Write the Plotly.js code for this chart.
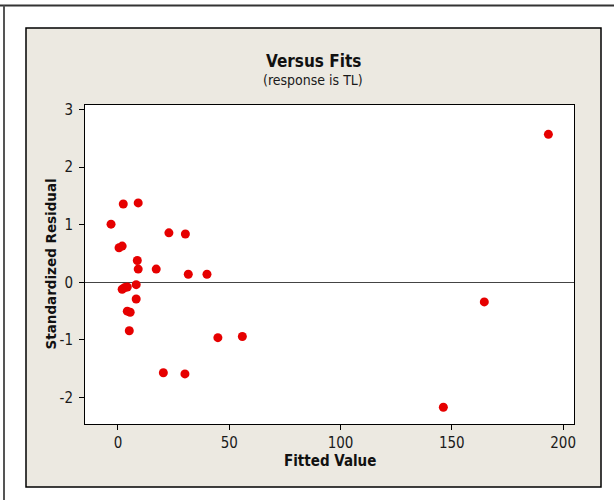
<!DOCTYPE html>
<html>
<head>
<meta charset="utf-8">
<script src="https://cdn.plot.ly/plotly-3.0.1.min.js"></script>
<style>html,body{margin:0;padding:0;background:#fff;}#chart{width:614px;height:500px;}</style>
</head>
<body>
<div id="chart"></div>
<script>
// Data
const fittedValues = [-3.1, 2.4, 9.1, 22.9, 30.3, 0.5, 1.9, 8.7, 9.1, 17.2, 31.6, 40.0, 8.2, 1.9, 3.1, 4.2, 8.2, 4.2, 5.5, 5.1, 44.9, 55.9, 20.4, 30.1, 193.4, 164.6, 146.2];
const stdResiduals = [1.01, 1.36, 1.38, 0.86, 0.84, 0.60, 0.63, 0.38, 0.23, 0.23, 0.14, 0.14, -0.04, -0.12, -0.09, -0.08, -0.29, -0.50, -0.52, -0.84, -0.96, -0.94, -1.57, -1.59, 2.57, -0.34, -2.17];
const xTicks = [0, 50, 100, 150, 200];
const xTickLabels = ['0', '50', '100', '150', '200'];
const yTicks = [-2, -1, 0, 1, 2, 3];
const yTickLabels = ['-2', '-1', '0', '1', '2', '3'];

const narrow = "Liberation Sans Narrow, DejaVu Sans Condensed, Arial Narrow, sans-serif";

const W = 614, H = 500;
const L = 85, R = 574, T = 105, B = 424;
const px = v => (v - L) / (R - L);
const py = v => (B - v) / (B - T);

const trace = {
  x: fittedValues,
  y: stdResiduals,
  type: 'scatter',
  mode: 'markers',
  marker: {color: '#e60000', size: 9, line: {width: 0}},
  hoverinfo: 'x+y'
};

const layout = {
  width: W, height: H,
  margin: {l: L, r: W - R, t: T, b: H - B, pad: 0},
  paper_bgcolor: '#ffffff',
  plot_bgcolor: 'rgba(0,0,0,0)',
  showlegend: false,
  font: {family: narrow, size: 13, color: '#1a1a1a'},
  xaxis: {
    range: [-14.8, 204.9],
    tickvals: xTicks, ticktext: xTickLabels,
    ticks: 'outside', ticklen: 5, tickcolor: '#000', tickwidth: 1,
    showgrid: false, zeroline: false,
    showline: true, mirror: true, linecolor: '#000', linewidth: 1,
    tickfont: {family: narrow, size: 15, color: '#1a1a1a'}
  },
  yaxis: {
    range: [-2.46, 3.08],
    tickvals: yTicks, ticktext: yTickLabels,
    ticks: 'outside', ticklen: 5, tickcolor: '#000', tickwidth: 1,
    ticklabelstandoff: 3,
    showgrid: false,
    zeroline: true, zerolinecolor: '#444', zerolinewidth: 1,
    showline: true, mirror: true, linecolor: '#000', linewidth: 1,
    tickfont: {family: narrow, size: 15, color: '#1a1a1a'}
  },
  shapes: [
    {type: 'rect', xref: 'paper', yref: 'paper', layer: 'below',
     x0: px(26), x1: px(601), y0: py(487), y1: py(28),
     fillcolor: '#ece9e1', line: {color: '#000', width: 1.5}},
    {type: 'rect', xref: 'paper', yref: 'paper', layer: 'below',
     x0: 0, x1: 1, y0: 0, y1: 1,
     fillcolor: '#ffffff', line: {width: 0}},
    {type: 'line', xref: 'paper', yref: 'paper',
     x0: px(0), x1: px(614), y0: py(5.5), y1: py(5.5),
     line: {color: '#333', width: 2}},
    {type: 'line', xref: 'paper', yref: 'paper',
     x0: px(4), x1: px(4), y0: py(500), y1: py(5.5),
     line: {color: '#555', width: 2}}
  ],
  annotations: [
    {text: '<b>Versus Fits</b>', xref: 'paper', yref: 'paper', x: px(313), y: py(61),
     xanchor: 'center', yanchor: 'middle', showarrow: false,
     font: {family: narrow, size: 17, color: '#111'}},
    {text: '(response is TL)', xref: 'paper', yref: 'paper', x: px(313), y: py(80),
     xanchor: 'center', yanchor: 'middle', showarrow: false,
     font: {family: narrow, size: 14, color: '#1a1a1a'}},
    {text: '<b>Fitted Value</b>', xref: 'paper', yref: 'paper', x: 0.5, y: py(461),
     xanchor: 'center', yanchor: 'middle', showarrow: false,
     font: {family: narrow, size: 15, color: '#111'}},
    {text: '<b>Standardized Residual</b>', xref: 'paper', yref: 'paper', x: px(50), y: 0.5,
     xanchor: 'center', yanchor: 'middle', showarrow: false, textangle: -90,
     font: {family: 'DejaVu Sans, Verdana, sans-serif', size: 13.5, color: '#111'}}
  ]
};

Plotly.newPlot('chart', [trace], layout, {displayModeBar: false, staticPlot: true});
</script>
</body>
</html>
